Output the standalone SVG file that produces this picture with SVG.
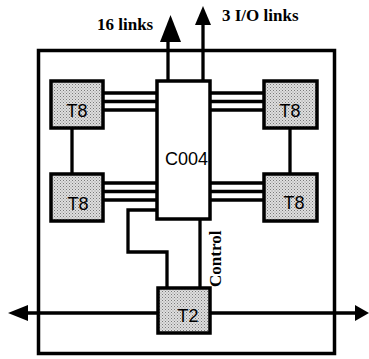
<svg xmlns="http://www.w3.org/2000/svg" width="369" height="359" viewBox="0 0 369 359">
<defs>
<pattern id="stip" width="3" height="3" patternUnits="userSpaceOnUse">
<rect width="3" height="3" fill="#dedede"/>
<rect x="0" y="0" width="1" height="1" fill="#7a7a7a"/>
<rect x="1.5" y="1.5" width="1" height="1" fill="#959595"/>
</pattern>
</defs>
<style>
.box{fill:url(#stip);stroke:#000;stroke-width:3.5}
.plain{fill:#fff;stroke:#000;stroke-width:3.5}
.ln{fill:none;stroke:#000;stroke-width:3.3}
.lbl{font-family:"Liberation Sans",Arial,sans-serif;font-size:18px;fill:#000}
.cap{font-family:"Liberation Serif","Times New Roman",serif;font-weight:bold;font-size:17px;fill:#000}
.ah{fill:#000;stroke:none}
</style>
<rect x="38.5" y="50.5" width="296" height="303" fill="none" stroke="#000" stroke-width="3.5"/>
<g id="connectors">
<path class="ln" d="M103 93H157M103 101.5H157M103 110H157"/>
<path class="ln" d="M210 93H263M210 101.5H263M210 110H263"/>
<path class="ln" d="M103 183H157M103 191.5H157M103 200H157"/>
<path class="ln" d="M210 183H263M210 191.5H263M210 200H263"/>
<path class="ln" d="M72 128V173M290 128V173"/>
<path class="ln" d="M157 210H128V252H167V287"/>
<path class="ln" d="M200 218V287"/>
<path class="ln" d="M168 80V40" stroke-width="3.5"/>
<polygon class="ah" points="170.5,15 160,42 181,42"/>
<path class="ln" d="M203 80V22"/>
<polygon class="ah" points="203,6 195,25 211,25"/>
<path class="ln" d="M26 313H157M210 313H356"/>
<polygon class="ah" points="8,313 28,305 28,321"/>
<polygon class="ah" points="369,313 355,305 355,321"/>
</g>
<g id="c004"><rect class="plain" x="157" y="81" width="53" height="138"/><text class="lbl" x="165" y="165">C004</text></g>
<g id="t8-tl"><rect class="box" x="51" y="81" width="52" height="47"/><text class="lbl" x="77" y="117" text-anchor="middle">T8</text></g>
<g id="t8-tr"><rect class="box" x="264" y="81" width="53" height="47"/><text class="lbl" x="290" y="117" text-anchor="middle">T8</text></g>
<g id="t8-bl"><rect class="box" x="51" y="174" width="52" height="47"/><text class="lbl" x="78" y="210" text-anchor="middle">T8</text></g>
<g id="t8-br"><rect class="box" x="264" y="174" width="53" height="47"/><text class="lbl" x="294" y="209" text-anchor="middle">T8</text></g>
<g id="t2"><rect class="box" x="158" y="288" width="52" height="45"/><text class="lbl" x="188" y="322" text-anchor="middle">T2</text></g>
<text class="cap" x="97" y="30">16 links</text>
<text class="cap" x="222" y="21">3 I/O links</text>
<text class="cap" transform="translate(221 287) rotate(-90)" font-size="16">Control</text>
</svg>
